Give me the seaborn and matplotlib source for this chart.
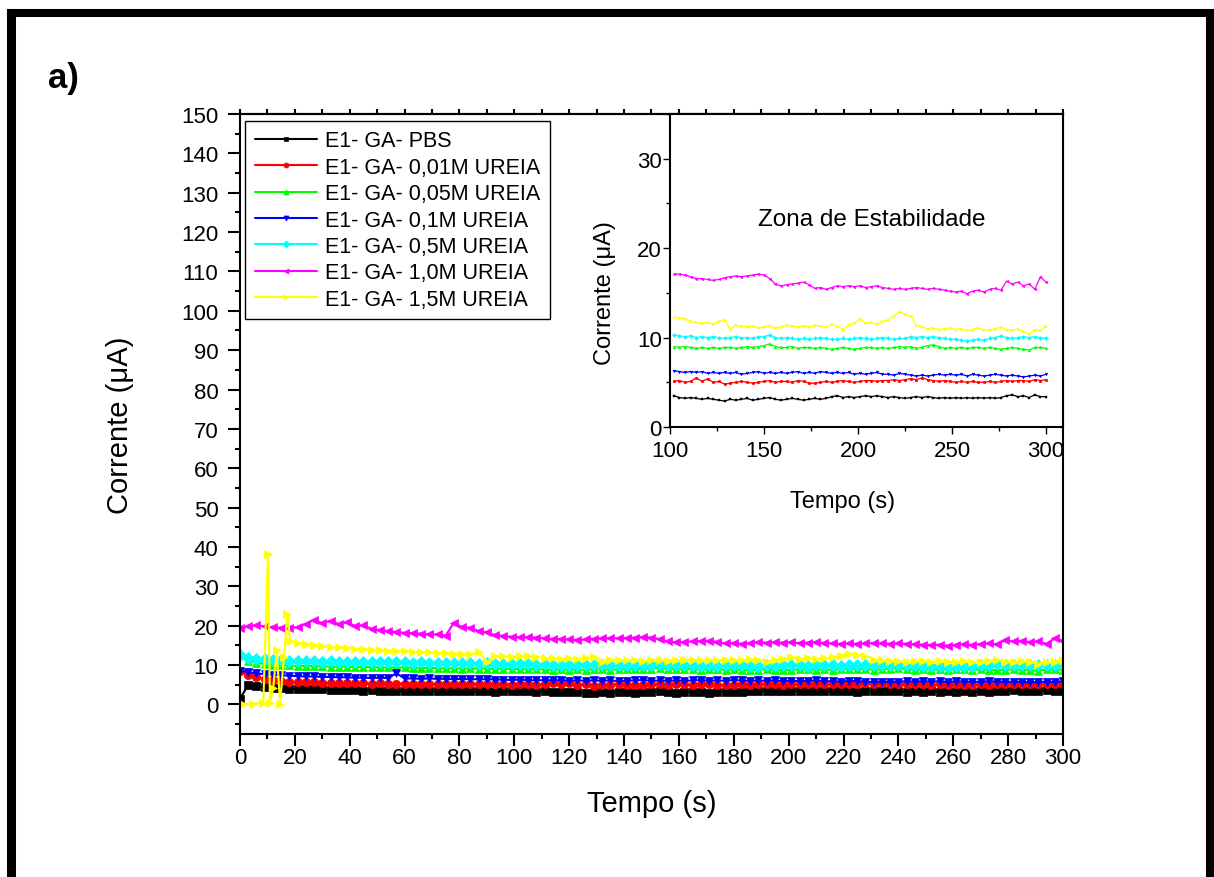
import numpy as np
import pandas as pd
import matplotlib
matplotlib.use('Agg')  # no display
import matplotlib.pyplot as plt
from matplotlib.ticker import MultipleLocator
from matplotlib.lines import Line2D
import seaborn as sns

# sampling grid (s), every 3 s
time = np.arange(0, 301, 3)
# 1,5M series has a few extra early readings (spikes)
yellow_time = np.concatenate([[0, 1.2, 4.9, 8.5, 10.2, 10.9, 12.1, 13.4, 14.6, 16.0, 17.3, 18.3],
                              np.arange(21, 301, 3)])

labels = ['E1- GA- PBS', 'E1- GA- 0,01M UREIA', 'E1- GA- 0,05M UREIA', 'E1- GA- 0,1M UREIA',
          'E1- GA- 0,5M UREIA', 'E1- GA- 1,0M UREIA', 'E1- GA- 1,5M UREIA']
colors = ['#000000', '#FF0000', '#00FF00', '#0000FF', '#00FFFF', '#FF00FF', '#FFFF00']
markers = ['s', 'o', '^', 'v', 'D', '<', '>']

pbs = [1.5, 4.9, 4.6, 4.4, 4.2, 4.1, 4.0, 3.9, 3.9, 3.8,
       3.8, 3.7, 3.7, 3.6, 3.6, 3.5, 3.6, 3.5, 3.5, 3.4,
       3.4, 3.5, 3.4, 3.4, 3.3, 3.4, 3.3, 3.4, 3.3, 3.3,
       3.3, 3.2, 3.4, 3.3, 3.5, 3.3, 3.2, 3.3, 3.2, 3.1,
       3.2, 3.1, 3.0, 2.9, 3.1, 3.0, 3.1, 3.2, 3.0, 3.1,
       3.2, 3.3, 3.1, 3.0, 3.1, 3.2, 3.1, 3.0, 3.1, 3.2,
       3.1, 3.2, 3.4, 3.5, 3.3, 3.4, 3.3, 3.4, 3.5, 3.4,
       3.5, 3.4, 3.3, 3.4, 3.3, 3.2, 3.3, 3.4, 3.3, 3.4,
       3.3, 3.2, 3.3, 3.2, 3.3, 3.2, 3.3, 3.2, 3.3, 3.2,
       3.3, 3.2, 3.3, 3.5, 3.6, 3.4, 3.5, 3.3, 3.6, 3.4,
       3.4]

urea_001 = [8.6, 7.5, 6.9, 6.4, 6.1, 5.9, 5.8, 5.7, 5.6, 5.6,
            5.5, 5.5, 5.4, 5.5, 5.4, 5.4, 5.3, 5.4, 5.3, 5.3,
            5.3, 5.2, 5.3, 5.2, 5.2, 5.3, 5.2, 5.2, 5.1, 5.2,
            5.1, 5.2, 5.1, 5.0, 5.1, 5.2, 5.0, 5.1, 5.5, 5.1,
            5.4, 5.0, 5.1, 4.8, 4.9, 5.0, 5.1, 5.0, 4.9, 5.0,
            5.1, 5.2, 5.0, 5.1, 5.1, 5.0, 5.2, 5.1, 4.9, 4.9,
            5.0, 5.1, 5.0, 5.1, 5.2, 5.1, 5.0, 5.1, 5.2, 5.2,
            5.1, 5.2, 5.2, 5.3, 5.2, 5.3, 5.4, 5.3, 5.5, 5.3,
            5.2, 5.1, 5.2, 5.1, 5.0, 5.1, 5.0, 5.1, 5.0, 5.0,
            5.1, 5.0, 5.1, 5.2, 5.1, 5.2, 5.2, 5.1, 5.3, 5.2,
            5.3]

urea_005 = [13.4, 11.0, 10.6, 10.3, 10.1, 10.0, 9.9, 9.8, 9.8, 9.7,
            9.7, 9.6, 9.6, 9.6, 9.5, 9.5, 9.5, 9.4, 9.4, 9.4,
            9.4, 9.3, 9.3, 9.3, 9.2, 9.2, 9.2, 9.1, 9.2, 9.1,
            9.1, 9.0, 9.1, 9.0, 9.0, 8.9, 9.0, 8.9, 8.8, 8.9,
            8.8, 8.9, 8.8, 8.9, 8.9, 8.8, 8.9, 9.0, 8.9, 9.0,
            9.1, 9.3, 9.0, 8.9, 8.9, 9.0, 8.8, 8.9, 8.9, 8.8,
            8.9, 8.8, 8.7, 8.8, 8.9, 8.8, 8.7, 8.8, 8.9, 8.9,
            8.8, 8.9, 8.8, 8.9, 9.0, 8.9, 9.0, 8.8, 8.9, 9.1,
            9.2, 9.0, 8.8, 8.9, 8.8, 8.9, 8.8, 8.9, 8.9, 8.8,
            8.9, 8.8, 8.7, 8.8, 8.9, 8.8, 8.7, 8.6, 8.9, 8.9,
            8.8]

urea_01 = [8.6, 8.2, 7.9, 7.7, 7.5, 7.4, 7.3, 7.2, 7.1, 7.1,
           7.0, 7.0, 6.9, 6.9, 6.8, 6.8, 6.7, 6.8, 6.7, 7.9,
           6.6, 6.6, 6.5, 6.6, 6.5, 6.5, 6.4, 6.5, 6.4, 6.4,
           6.4, 6.3, 6.3, 6.2, 6.3, 6.2, 6.1, 6.2, 6.1, 6.2,
           6.0, 6.1, 6.0, 6.1, 6.0, 6.1, 5.9, 6.0, 6.1, 6.2,
           6.0, 6.1, 6.0, 6.1, 6.0, 6.1, 6.2, 6.0, 6.1, 6.0,
           6.2, 6.1, 6.0, 6.1, 6.0, 6.1, 5.9, 6.0, 5.9, 6.0,
           6.1, 5.9, 5.9, 5.8, 6.0, 5.9, 5.8, 5.7, 5.8, 5.7,
           5.8, 5.9, 5.8, 5.9, 5.8, 5.9, 5.7, 5.9, 5.8, 5.7,
           5.8, 5.9, 5.8, 5.7, 5.8, 5.7, 5.6, 5.7, 5.8, 5.7,
           5.9]

urea_05 = [12.5, 11.9, 11.6, 11.5, 11.3, 11.2, 11.1, 11.1, 11.0, 11.0,
           10.9, 11.0, 10.9, 10.8, 10.9, 10.8, 10.7, 10.8, 10.7, 10.7,
           10.7, 10.6, 10.7, 10.6, 10.6, 10.5, 10.6, 10.5, 10.5, 10.4,
           10.5, 10.4, 10.4, 10.3, 10.3, 10.2, 10.1, 10.2, 10.0, 10.1,
           10.0, 10.1, 10.0, 9.9, 10.0, 10.1, 10.0, 10.0, 9.9, 10.1,
           10.1, 10.3, 10.0, 9.9, 10.0, 9.9, 9.8, 9.9, 9.8, 9.9,
           10.0, 9.9, 9.8, 9.8, 9.9, 9.8, 9.9, 10.0, 9.9, 9.8,
           9.9, 10.0, 9.9, 9.8, 9.9, 9.9, 10.1, 10.0, 10.1, 10.0,
           10.1, 10.0, 9.9, 9.8, 9.8, 9.7, 9.6, 9.7, 9.8, 9.7,
           9.9, 10.0, 10.2, 10.0, 9.9, 10.0, 10.1, 10.0, 10.1, 10.0,
           9.9]

urea_10 = [19.3, 19.8, 20.1, 19.8, 19.6, 19.5, 19.4, 19.7, 20.4, 21.5,
           20.6, 21.3, 20.4, 20.9, 19.9, 20.1, 19.2, 18.9, 18.6, 18.4,
           18.2, 18.1, 18.0, 17.8, 17.8, 17.5, 20.8, 19.6, 19.5, 18.6,
           18.3, 17.6, 17.4, 17.2, 17.1, 17.1, 17.0, 16.8, 16.6, 16.6,
           16.5, 16.4, 16.5, 16.7, 16.8, 16.9, 16.8, 16.9, 17.0, 17.1,
           17.0, 16.6, 16.0, 15.8, 15.9, 16.0, 16.1, 16.2, 15.9, 15.5,
           15.6, 15.4, 15.6, 15.8, 15.7, 15.8, 15.7, 15.8, 15.6, 15.7,
           15.8, 15.6, 15.5, 15.4, 15.5, 15.4, 15.5, 15.6, 15.5, 15.4,
           15.5, 15.4, 15.3, 15.2, 15.1, 15.2, 14.9, 15.2, 15.3, 15.1,
           15.4, 15.5, 15.3, 16.3, 16.0, 16.2, 15.8, 16.0, 15.4, 16.8,
           16.2]

urea_15 = [0.2, 0.1, 0.2, 0.4, 38.3, 0.3, 4.1, 13.8, 0.1, 12.1, 23.1, 16.1,
           15.6, 15.3, 15.0, 14.8, 14.6, 14.5, 14.3, 14.2, 14.0, 13.9,
           13.8, 13.7, 13.6, 13.5, 13.4, 13.3, 13.2, 13.1, 13.0, 12.9,
           12.8, 12.7, 13.4, 10.8, 12.3, 12.2, 12.1, 12.3, 12.2, 12.1,
           11.8, 11.7, 11.6, 11.7, 11.5, 11.8, 12.0, 10.9, 11.4, 11.3,
           11.2, 11.3, 11.1, 11.2, 11.3, 11.1, 11.2, 11.4, 11.3, 11.2,
           11.3, 11.2, 11.4, 11.3, 11.2, 11.5, 11.3, 10.9, 11.4, 11.6,
           12.1, 11.6, 11.7, 11.5, 11.8, 12.0, 12.4, 12.9, 12.6, 12.4,
           11.4, 11.2, 11.0, 11.1, 10.9, 11.0, 11.1, 10.9, 11.0, 10.8,
           10.9, 11.1, 10.8, 10.9, 11.0, 11.2, 10.9, 10.8, 11.0, 10.7,
           10.4, 10.9, 10.8, 11.3]

series = [(time, pbs), (time, urea_001), (time, urea_005), (time, urea_01),
          (time, urea_05), (time, urea_10), (yellow_time, urea_15)]

sns.set_style('ticks')
plt.rcParams['font.family'] = ['Liberation Sans', 'DejaVu Sans']
plt.rcParams.update({
    'axes.linewidth': 1.5,
    'axes.edgecolor': 'black',
    'axes.labelcolor': 'black',
    'text.color': 'black',
    'xtick.color': 'black',
    'ytick.color': 'black',
})

fig = plt.figure(figsize=(12.14, 8.78), dpi=100)

# ---- main plot ----
ax = fig.add_axes([0.1977, 0.1629, 0.6779, 0.7062])
for (t, v), lab, col, mk in zip(series, labels, colors, markers):
    df = pd.DataFrame({'t': t, 'v': v})
    sns.lineplot(data=df, x='t', y='v', ax=ax, color=col, marker=mk, markersize=6,
                 mec=col, mew=0.5, linewidth=1.5, label=lab, estimator=None, sort=False)

ax.set_xlim(0, 300)
ax.set_ylim(-7.5, 150)
ax.xaxis.set_major_locator(MultipleLocator(20))
ax.xaxis.set_minor_locator(MultipleLocator(10))
ax.yaxis.set_major_locator(MultipleLocator(10))
ax.yaxis.set_minor_locator(MultipleLocator(5))
ax.tick_params(which='major', length=8.5, width=1.5, labelsize=16, direction='out')
ax.tick_params(which='minor', length=3.6, width=1.5, direction='out')
ax.tick_params(axis='x', which='major', pad=1)
ax.tick_params(axis='y', which='major', pad=7)
ax.set_xlabel('Tempo (s)', fontsize=21)
ax.set_ylabel('Corrente (\u03bcA)', fontsize=21)
ax.xaxis.set_label_coords(0.5, -0.088)
ax.yaxis.set_label_coords(-0.129, 0.5)

top = ax.secondary_xaxis('top')
top.xaxis.set_major_locator(MultipleLocator(10))
top.tick_params(length=3.5, width=1.5, labeltop=False, direction='out')

leg = ax.legend(loc='upper left', bbox_to_anchor=(0.006, 0.989), borderaxespad=0,
                frameon=True, fancybox=False, framealpha=1, edgecolor='black',
                fontsize=15.5, markerscale=0.6, handlelength=2.9, handletextpad=0.35,
                labelspacing=0.25, borderpad=0.45)
leg.get_frame().set_linewidth(1.0)

# ---- inset: stability zone ----
ax_in = fig.add_axes([0.5519, 0.5125, 0.3237, 0.3565])
for (t, v), col, mk in zip(series, colors, markers):
    df = pd.DataFrame({'t': t, 'v': v})
    df = df[df['t'] >= 100]
    sns.lineplot(data=df, x='t', y='v', ax=ax_in, color=col, marker=mk, markersize=2,
                 mec=col, mew=0.3, linewidth=0.9, estimator=None, sort=False, legend=False)

ax_in.set_xlim(100, 309)
ax_in.set_ylim(0, 35)
ax_in.xaxis.set_major_locator(MultipleLocator(50))
ax_in.xaxis.set_minor_locator(MultipleLocator(25))
ax_in.yaxis.set_major_locator(MultipleLocator(10))
ax_in.yaxis.set_minor_locator(MultipleLocator(5))
ax_in.tick_params(which='major', length=5, width=1, labelsize=16, direction='out')
ax_in.tick_params(which='minor', length=3, width=1, direction='out')
ax_in.tick_params(axis='x', which='major', pad=4)
ax_in.tick_params(axis='y', which='major', pad=1)
ax_in.set_xlabel('Tempo (s)', fontsize=17)
ax_in.set_ylabel('Corrente (\u03bcA)', fontsize=17)
ax_in.xaxis.set_label_coords(0.44, -0.2)
ax_in.yaxis.set_label_coords(-0.137, 0.43)
ax_in.text(0.514, 0.665, 'Zona de Estabilidade', transform=ax_in.transAxes,
           ha='center', va='center', fontsize=17.5)

# ---- panel label and frame ----
fig.text(0.052, 0.911, 'a)', fontsize=25, fontweight='bold', ha='center', va='center')
fig.add_artist(Line2D([0.00865, 0.00865], [0, 0.9846], transform=fig.transFigure,
                      color='black', linewidth=6.5, solid_capstyle='projecting'))
fig.add_artist(Line2D([0.00865, 1.0], [0.9846, 0.9846], transform=fig.transFigure,
                      color='black', linewidth=5.8, solid_capstyle='projecting'))
fig.add_artist(Line2D([0.9971, 0.9971], [0, 0.9846], transform=fig.transFigure,
                      color='black', linewidth=5.8, solid_capstyle='projecting'))

fig.savefig('out.png', dpi=100)
plt.close(fig)
